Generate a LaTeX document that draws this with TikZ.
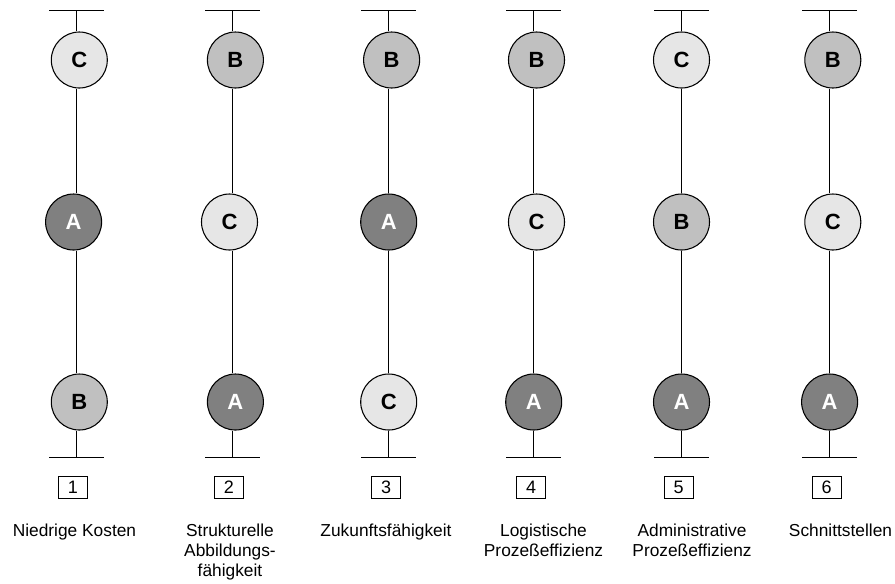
\documentclass[tikz,border=0pt]{standalone}
\usepackage{fontspec}
\setmainfont{Liberation Sans}
\usetikzlibrary{positioning}
\definecolor{lowgray}{HTML}{E6E6E6}
\definecolor{midgray}{HTML}{C0C0C0}
\definecolor{highgray}{HTML}{808080}
\tikzstyle{rating} = [draw, circle, line width=0.8pt, minimum size=42pt, inner sep=0pt, font=\fontsize{16.5}{16.5}\selectfont\bfseries]
\tikzstyle{ratA} = [rating, fill=highgray, text=white]
\tikzstyle{ratB} = [rating, fill=midgray]
\tikzstyle{ratC} = [rating, fill=lowgray]
\tikzstyle{numbox} = [draw, rectangle, line width=0.75pt, minimum width=21.75pt, minimum height=16.5pt, inner sep=0pt, font=\fontsize{13.5}{15}\selectfont]
\tikzstyle{crit} = [align=center, anchor=north, inner sep=0pt, font=\fontsize{13}{15}\selectfont]

\begin{document}
\begin{tikzpicture}[x=0.75pt, y=-0.75pt, line width=0.75pt]
    \useasboundingbox (0,0) rectangle (895,583);
    % column x, box x, label x, ratings top/mid/low with their x, number, label
    \foreach \n/\x/\bx/\lx/\hi/\hx/\mi/\mx/\lo/\lox/\txt in {
        1/76.5/73/74.5/C/79.3/A/73.6/B/79.3/{Niedrige Kosten},
        2/232.5/229/230/B/235.4/C/229.5/A/235.4/{Strukturelle\\Abbildungs-\\fähigkeit},
        3/388.5/386/386/B/391.6/A/388.7/C/388.7/{Zukunftsfähigkeit},
        4/533.5/531/543.5/B/536.5/C/536.5/A/533.7/{Logistische\\Prozeßeffizienz},
        5/681.5/678.5/692/C/681.5/B/681.5/A/681.5/{Administrative\\Prozeßeffizienz},
        6/829.5/826.5/840.5/B/832.8/C/832.8/A/829.6/{Schnittstellen}} {
        \coordinate (top\n) at (\x,10.5);
        \coordinate (topl\n) at (\x-27.5,10.5);
        \coordinate (topr\n) at (\x+27.5,10.5);
        \node [rat\hi] (hi\n) at (\hx,60) {\hi};
        \node [rat\mi] (mi\n) at (\mx,222) {\mi};
        \node [rat\lo] (lo\n) at (\lox,402) {\lo};
        \coordinate (bot\n) at (\x,457.5);
        \coordinate (botl\n) at (\x-27.5,457.5);
        \coordinate (botr\n) at (\x+27.5,457.5);
        \draw (topl\n) -- (topr\n);
        \draw (top\n) -- (top\n |- hi\n.north);
        \draw (hi\n.south -| top\n) -- (top\n |- mi\n.north);
        \draw (mi\n.south -| top\n) -- (top\n |- lo\n.north);
        \draw (lo\n.south -| top\n) -- (bot\n);
        \draw (botl\n) -- (botr\n);
        \node [numbox] (num\n) at (\bx,487) {\n};
        \node [crit] (crit\n) at (\lx,523) {\txt};
    }
\end{tikzpicture}
\end{document}
